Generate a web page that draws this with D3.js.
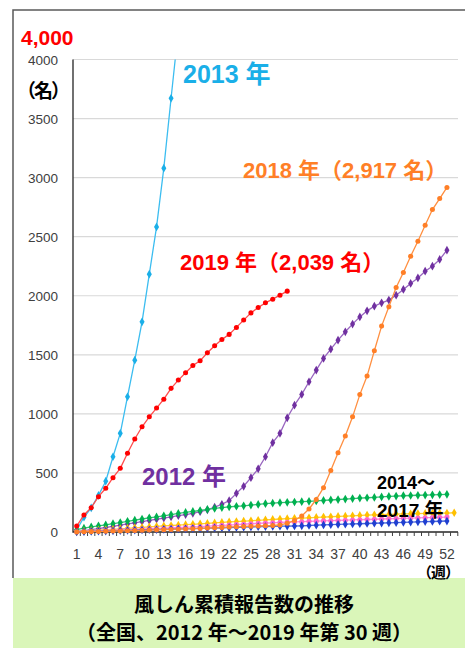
<!DOCTYPE html>
<html>
<head>
<meta charset="utf-8">
<script src="https://cdn.jsdelivr.net/npm/d3@7"></script>
<style>
  body { margin: 0; background: #fff; }
  svg { display: block; }
</style>
</head>
<body>
<svg id="chart" width="465" height="648"></svg>
<script>
// weeks 1..53 (2015 had a week 53)
const weeks = d3.range(1, 54);
const weekTicks = [1, 4, 7, 10, 13, 16, 19, 22, 25, 28, 31, 34, 37, 40, 43, 46, 49, 52];
const yTicks = [0, 500, 1000, 1500, 2000, 2500, 3000, 3500, 4000];

// cumulative reports per week
const y2012 = [5, 12, 20, 28, 38, 48, 58, 68, 78, 88, 98, 108, 118, 128, 138, 148, 158,
  172, 188, 210, 235, 265, 327, 387, 460, 535, 637, 756, 835, 967, 1074, 1165, 1272,
  1371, 1469, 1548, 1624, 1695, 1760, 1821, 1872, 1912, 1940, 1963, 2005, 2053, 2104,
  2151, 2208, 2250, 2307, 2386];
const y2013 = [17, 125, 205, 310, 430, 637, 835, 1145, 1455, 1779, 2183, 2583, 3080, 3672, 4250];
const y2014 = [20, 32, 43, 52, 60, 70, 80, 90, 100, 110, 120, 128, 137, 147, 157, 166, 174,
  182, 191, 200, 207, 213, 218, 222, 228, 233, 240, 244, 248, 251, 254, 257, 260, 263, 267,
  271, 275, 279, 283, 287, 290, 293, 297, 301, 304, 307, 309, 311, 313, 315, 317, 319];
const y2015 = [3, 7, 11, 15, 19, 23, 27, 31, 35, 39, 43, 47, 51, 55, 58, 62, 65, 69, 73, 77,
  81, 85, 88, 92, 95, 99, 103, 106, 110, 113, 116, 118, 120, 123, 126, 129, 132, 134, 137,
  140, 143, 145, 147, 149, 151, 153, 154, 156, 157, 158, 159, 160, 163];
const y2016 = [2, 5, 8, 10, 13, 15, 18, 20, 23, 25, 28, 30, 32, 35, 38, 40, 43, 45, 49, 52,
  56, 59, 63, 66, 70, 73, 76, 78, 81, 83, 85, 87, 90, 92, 94, 96, 98, 100, 102, 104, 106,
  108, 110, 112, 114, 116, 118, 119, 121, 122, 124, 126];
const y2017 = [1, 3, 5, 7, 8, 10, 12, 14, 16, 17, 19, 21, 23, 24, 26, 27, 29, 31, 32, 34,
  36, 38, 39, 41, 43, 45, 46, 48, 49, 50, 51, 52, 55, 58, 60, 62, 64, 66, 68, 70, 72, 74,
  76, 78, 80, 82, 84, 86, 88, 89, 91, 93];
const y2018 = [1, 2, 3, 5, 6, 8, 9, 11, 12, 14, 16, 18, 20, 22, 24, 26, 28, 30, 33, 36,
  39, 42, 45, 47, 49, 51, 53, 55, 60, 74, 98, 135, 195, 275, 375, 520, 671, 812, 975, 1163,
  1320, 1534, 1743, 1906, 2070, 2197, 2335, 2462, 2597, 2730, 2823, 2917];
const y2019 = [50, 144, 206, 299, 370, 460, 539, 666, 787, 891, 975, 1049, 1124, 1216, 1286,
  1348, 1410, 1449, 1517, 1576, 1630, 1673, 1732, 1794, 1855, 1901, 1940, 1971, 2005, 2039];

const series = [
  { name: "2012", values: y2012, color: "#7030A0", line: "#9966C0", shape: d3.symbolDiamond },
  { name: "2013", values: y2013, color: "#1AAFE8", line: "#3CBDF0", shape: d3.symbolDiamond },
  { name: "2014", values: y2014, color: "#00B050", line: "#33C070", shape: d3.symbolDiamond },
  { name: "2015", values: y2015, color: "#FFC000", line: "#FFCC33", shape: d3.symbolDiamond },
  { name: "2016", values: y2016, color: "#FF66CC", line: "#FF88D8", shape: d3.symbolCircle },
  { name: "2017", values: y2017, color: "#1F3FD0", line: "#4A66DD", shape: d3.symbolDiamond },
  { name: "2018", values: y2018, color: "#FF7F27", line: "#FF8F40", shape: d3.symbolCircle },
  { name: "2019", values: y2019, color: "#FF0000", line: "#FF4D4D", shape: d3.symbolCircle }
];

const svg = d3.select("#chart");
const plotLeft = 73, plotRight = 458, plotTop = 59.5, plotBottom = 532;

const x = d3.scalePoint().domain(weeks).range([76.7, 454.2]);
const y = d3.scaleLinear().domain([0, 4000]).range([plotBottom, plotTop]);

const latin = "'Liberation Sans', Arial, 'Noto Sans CJK JP', sans-serif";
const cjk = "'Noto Sans CJK JP', sans-serif";

// frame
svg.append("path")
  .attr("d", `M 13,578 L 13,10 L 465,10`)
  .attr("stroke", "#595959")
  .attr("stroke-width", 1.5)
  .attr("fill", "none");

// gridlines
svg.append("g")
  .selectAll("line")
  .data(yTicks.filter(d => d > 0))
  .enter()
  .append("line")
  .attr("x1", plotLeft)
  .attr("x2", plotRight)
  .attr("y1", d => y(d))
  .attr("y2", d => y(d))
  .attr("stroke", "#D9D9D9")
  .attr("stroke-width", 1.2);

// y tick labels
svg.append("g")
  .selectAll("text")
  .data(yTicks)
  .enter()
  .append("text")
  .attr("x", 58)
  .attr("y", d => y(d) + 5)
  .attr("text-anchor", "end")
  .attr("font-family", latin)
  .attr("font-size", "13.5px")
  .attr("fill", "#404040")
  .text(d => d);

// axes lines
svg.append("path")
  .attr("d", `M ${plotLeft},${plotTop} L ${plotLeft},${plotBottom} L ${plotRight},${plotBottom}`)
  .attr("stroke", "#262626")
  .attr("stroke-width", 1.3)
  .attr("fill", "none");

// x tick marks at every week
svg.append("g")
  .selectAll("line")
  .data(weeks)
  .enter()
  .append("line")
  .attr("x1", d => x(d) + 3.6)
  .attr("x2", d => x(d) + 3.6)
  .attr("y1", plotBottom)
  .attr("y2", plotBottom + 4)
  .attr("stroke", "#404040")
  .attr("stroke-width", 1);

// x tick labels
svg.append("g")
  .selectAll("text")
  .data(weekTicks)
  .enter()
  .append("text")
  .attr("x", d => x(d))
  .attr("y", 558.5)
  .attr("text-anchor", "middle")
  .attr("font-family", latin)
  .attr("font-size", "14px")
  .attr("fill", "#404040")
  .text(d => d);

// clip for the plot area
svg.append("clipPath")
  .attr("id", "plotClip")
  .append("rect")
  .attr("x", plotLeft)
  .attr("y", plotTop)
  .attr("width", plotRight - plotLeft + 10)
  .attr("height", plotBottom - plotTop + 6);

const plot = svg.append("g").attr("clip-path", "url(#plotClip)");

const line = d3.line()
  .x((d, i) => x(weeks[i]))
  .y(d => y(d));

series.forEach(s => {
  plot.append("path")
    .datum(s.values)
    .attr("d", line)
    .attr("stroke", s.line)
    .attr("stroke-width", 1.3)
    .attr("fill", "none");

  const sym = d3.symbol().type(s.shape).size(s.shape === d3.symbolCircle ? 20 : 22);
  plot.append("g")
    .selectAll("path")
    .data(s.values)
    .enter()
    .append("path")
    .attr("transform", (d, i) => `translate(${x(weeks[i])},${y(d)})`)
    .attr("d", sym)
    .attr("fill", s.color);
});

// axis titles
svg.append("text")
  .attr("x", 21).attr("y", 45)
  .attr("font-family", latin)
  .attr("font-weight", "bold")
  .attr("font-size", "21px")
  .attr("fill", "#FF0000")
  .text("4,000");

svg.append("text")
  .attr("x", 17).attr("y", 98)
  .attr("font-family", cjk)
  .attr("font-weight", "bold")
  .attr("font-size", "19px")
  .attr("letter-spacing", "-2px")
  .attr("fill", "#000")
  .text("（名）");

// series labels
const labels = [
  { text: "2013 年", x: 183, y: 83, size: 25, color: "#1AAFE8" },
  { text: "2018 年（2,917 名）", x: 243, y: 178, size: 22, color: "#FF7F27" },
  { text: "2019 年（2,039 名）", x: 180, y: 270, size: 22, color: "#FF0000" },
  { text: "2012 年", x: 142, y: 485, size: 24, color: "#7030A0" },
  { text: "2014～", x: 377, y: 489, size: 18, color: "#000" },
  { text: "2017 年", x: 377, y: 517, size: 19, color: "#000" }
];

svg.append("g")
  .selectAll("text")
  .data(labels)
  .enter()
  .append("text")
  .attr("x", d => d.x)
  .attr("y", d => d.y)
  .attr("font-family", latin)
  .attr("font-weight", "bold")
  .attr("font-size", d => d.size + "px")
  .attr("fill", d => d.color)
  .text(d => d.text);

// title box
svg.append("rect")
  .attr("x", 13)
  .attr("y", 578)
  .attr("width", 452)
  .attr("height", 70)
  .attr("fill", "#DAF6B9");

svg.append("text")
  .attr("x", 417).attr("y", 578)
  .attr("font-family", cjk)
  .attr("font-weight", "bold")
  .attr("font-size", "15px")
  .attr("letter-spacing", "-1px")
  .attr("fill", "#000")
  .text("（週）");

svg.append("text")
  .attr("x", 244).attr("y", 612)
  .attr("text-anchor", "middle")
  .attr("font-family", cjk)
  .attr("font-weight", "bold")
  .attr("font-size", "20px")
  .attr("fill", "#000")
  .text("風しん累積報告数の推移");

svg.append("text")
  .attr("x", 244).attr("y", 640)
  .attr("text-anchor", "middle")
  .attr("font-family", cjk)
  .attr("font-weight", "bold")
  .attr("font-size", "20px")
  .attr("fill", "#000")
  .text("（全国、2012 年～2019 年第 30 週）");
</script>
</body>
</html>
